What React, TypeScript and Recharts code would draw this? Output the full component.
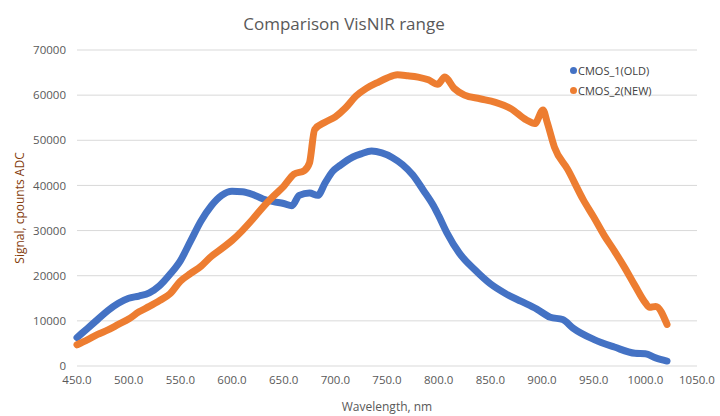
import { LineChart, Line, XAxis, YAxis, CartesianGrid, Legend } from 'recharts';

// CMOS_1 (old sensor): wavelength (nm) and signal (ADC counts)
const oldWavelengths = [
    450, 460, 470, 480, 490, 500, 510, 520, 530, 540, 550, 560, 570, 580, 590, 600, 610, 620, 630, 640,
    650, 658, 665, 675, 683, 690, 697, 705, 717, 725, 735, 745, 755, 765, 775, 785, 795, 800, 808, 820,
    835, 850, 865, 880, 895, 908, 920, 930, 950, 970, 990, 1000, 1010, 1021,
];
const oldSignal = [
    6300, 8300, 10300, 12300, 13900, 15000, 15500, 16200, 17800, 20300, 23300, 27700, 32100, 35500, 37800, 38700, 38600, 38000, 37000, 36400,
    36000, 35500, 37800, 38300, 37800, 40500, 43000, 44500, 46300, 47000, 47600, 47200, 46200, 44600, 42300, 39000, 35500, 33300, 29500, 25000,
    21300, 18200, 16000, 14300, 12600, 10800, 10300, 8400, 5900, 4200, 2800, 2700, 1800, 1100,
];

// CMOS_2 (new sensor)
const newWavelengths = [
    450, 460, 470, 480, 490, 500, 510, 520, 530, 540, 550, 560, 570, 580, 590, 600, 610, 620, 630, 640,
    650, 660, 670, 675, 680, 690, 700, 710, 720, 730, 740, 750, 760, 770, 780, 790, 799, 806, 815, 825,
    840, 855, 870, 885, 893, 901, 905, 912, 925, 940, 950, 960, 970, 980, 990, 1000, 1004, 1010, 1021,
];
const newSignal = [
    4700, 5800, 7000, 8000, 9200, 10400, 12000, 13200, 14500, 16000, 18800, 20500, 22100, 24300, 26000, 27800, 30000, 32500, 35200, 37600,
    39800, 42500, 43300, 45000, 52400, 54000, 55200, 57200, 59800, 61500, 62700, 63800, 64500, 64300, 64000, 63400, 62400, 64000, 61500, 60000,
    59200, 58400, 57000, 54500, 53700, 56700, 54000, 48500, 43500, 36800, 33000, 29000, 25500, 21800, 17800, 14000, 13000, 13200, 9200,
];

const xTicks = [450, 500, 550, 600, 650, 700, 750, 800, 850, 900, 950, 1000, 1050];
const yTicks = [0, 10000, 20000, 30000, 40000, 50000, 60000, 70000];

const oldData = oldWavelengths.map((nm, i) => ({ nm, signal: oldSignal[i] }));
const newData = newWavelengths.map((nm, i) => ({ nm, signal: newSignal[i] }));

const FONT = '"Open Sans", sans-serif';

function LegendList({ payload }: any) {
    return (
        <ul style={{ listStyle: 'none', margin: 0, padding: 0 }}>
            {(payload || []).map((p: any) => (
                <li key={p.value} style={{ display: 'flex', alignItems: 'center', height: 20, fontSize: 11, color: '#404040', fontFamily: FONT }}>
                    <span style={{ width: 7, height: 7, borderRadius: '50%', background: p.color, marginRight: 1 }} />
                    {p.value}
                </li>
            ))}
        </ul>
    );
}

export default function App() {
    return (
        <div style={{ position: 'absolute', left: 0, top: 0, width: 720, height: 416, background: '#fff', fontFamily: FONT }}>
            <div style={{ position: 'absolute', top: 12, left: 0, width: 688, textAlign: 'center', fontSize: 17, color: '#595959' }}>
                Comparison VisNIR range
            </div>
            <LineChart width={720} height={416} margin={{ top: 50, right: 23, bottom: 0, left: 0 }}>
                <CartesianGrid vertical={false} stroke="#D9D9D9" />
                <XAxis
                    type="number"
                    dataKey="nm"
                    domain={[450, 1050]}
                    ticks={xTicks}
                    tickFormatter={(v: number) => v.toFixed(1)}
                    axisLine={false}
                    tickLine={false}
                    tickMargin={4}
                    height={50}
                    tick={{ fontSize: 11.5, fill: '#595959', fontFamily: FONT }}
                    label={{ value: 'Wavelength, nm', position: 'insideBottom', offset: 5, fill: '#595959', fontSize: 12, fontFamily: FONT }}
                    allowDuplicatedCategory={false}
                />
                <YAxis
                    type="number"
                    domain={[0, 70000]}
                    ticks={yTicks}
                    axisLine={false}
                    tickLine={false}
                    tickMargin={5}
                    width={77}
                    tick={{ fontSize: 11.5, fill: '#595959', fontFamily: FONT }}
                    label={{ value: 'Signal, cpounts ADC', angle: -90, position: 'insideLeft', offset: 20, fill: '#843C0C', fontSize: 12, fontFamily: FONT, style: { textAnchor: 'middle' } }}
                />
                <Legend
                    layout="vertical"
                    verticalAlign="middle"
                    align="center"
                    content={<LegendList />}
                    wrapperStyle={{ top: 60, left: 570, right: 'auto', bottom: 'auto', width: 130 }}
                />
                <Line data={oldData} dataKey="signal" name="CMOS_1(OLD)" type="monotone" stroke="#4472C4" strokeWidth={7} dot={false} strokeLinecap="round" strokeLinejoin="round" isAnimationActive={false} />
                <Line data={newData} dataKey="signal" name="CMOS_2(NEW)" type="monotone" stroke="#ED7D31" strokeWidth={7} dot={false} strokeLinecap="round" strokeLinejoin="round" isAnimationActive={false} />
            </LineChart>
        </div>
    );
}
